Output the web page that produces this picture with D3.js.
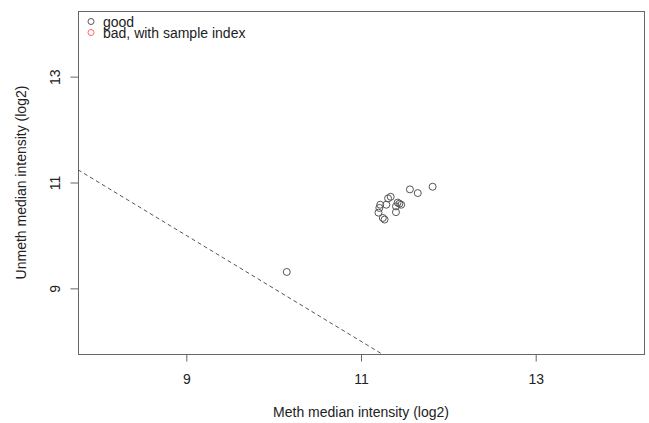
<!DOCTYPE html>
<html>
<head>
<meta charset="utf-8">
<script src="https://cdn.jsdelivr.net/npm/d3@7"></script>
<style>
  body { margin: 0; background: #fff; }
  text { font-family: "Liberation Sans", Arial, sans-serif; fill: #222; }
</style>
</head>
<body>
<div id="chart"></div>
<script>
/* QC plot: meth vs unmeth median intensity */

// sample medians (log2)
const meth   = [10.15, 11.56, 11.65, 11.82, 11.34, 11.31, 11.29, 11.22, 11.21,
                11.20, 11.25, 11.27, 11.42, 11.46, 11.40, 11.40, 11.44];
const unmeth = [9.31, 10.87, 10.80, 10.92, 10.73, 10.70, 10.58, 10.58, 10.52,
                10.43, 10.33, 10.30, 10.62, 10.58, 10.55, 10.44, 10.60];
const xTicks = [9, 11, 13];
const yTicks = [9, 11, 13];
const cutoff = 9.5; // line: meth + unmeth = 2 * cutoff
const legendLabels = ["good", "bad, with sample index"];
const legendColors = ["#555", "#f66"];

const width = 649,
      height = 423,
      margin = ({ top: 11, right: 5, bottom: 69, left: 78 });

const svg = d3.select("#chart")
    .append("svg")
    .attr("width", width)
    .attr("height", height);

// R style limits: 8..14 with 4% extension
const x = d3.scaleLinear()
    .domain([7.76, 14.24])
    .range([margin.left, width - margin.right]);

const y = d3.scaleLinear()
    .domain([7.76, 14.24])
    .range([height - margin.bottom, margin.top]);

const data = meth.map((m, i) => ({ m: m, u: unmeth[i] }));

// plot box
svg.append("rect")
    .attr("x", x.range()[0] + 0.5)
    .attr("y", y.range()[1] + 0.5)
    .attr("width", x.range()[1] - x.range()[0])
    .attr("height", y.range()[0] - y.range()[1])
    .attr("fill", "none")
    .attr("stroke", "#666")
    .attr("stroke-width", 1);

// axes
const xAxis = svg.append("g")
    .attr("transform", `translate(0,${y.range()[0] + 0.5})`)
    .call(d3.axisBottom(x).tickValues(xTicks).tickFormat(d3.format("d"))
        .tickSize(7).tickPadding(13));
xAxis.select(".domain").remove();

const yAxis = svg.append("g")
    .attr("transform", `translate(${x.range()[0] + 0.5},0)`)
    .call(d3.axisLeft(y).tickValues(yTicks).tickFormat(d3.format("d"))
        .tickSize(8).tickPadding(0));
yAxis.select(".domain").remove();

svg.selectAll(".tick line").attr("stroke", "#666");
xAxis.selectAll(".tick text")
    .style("font-size", "14px")
    .attr("fill", "#222");
yAxis.selectAll(".tick text")
    .style("font-size", "14px")
    .attr("fill", "#222")
    .attr("x", 0)
    .attr("dy", 0)
    .attr("text-anchor", "middle")
    .attr("transform", "translate(-18.5,0) rotate(-90)");

// axis titles
svg.append("text")
    .attr("x", (x.range()[0] + x.range()[1]) / 2)
    .attr("y", 417)
    .attr("text-anchor", "middle")
    .style("font-size", "14px")
    .text("Meth median intensity (log2)");

svg.append("text")
    .attr("transform", `translate(26,${(y.range()[0] + y.range()[1]) / 2}) rotate(-90)`)
    .attr("text-anchor", "middle")
    .style("font-size", "14px")
    .text("Unmeth median intensity (log2)");

// clip for the dashed cutoff line
svg.append("clipPath")
    .attr("id", "plot-clip")
    .append("rect")
    .attr("x", x.range()[0])
    .attr("y", y.range()[1])
    .attr("width", x.range()[1] - x.range()[0])
    .attr("height", y.range()[0] - y.range()[1]);

const x0 = x.domain()[0], x1 = x.domain()[1];
svg.append("line")
    .attr("clip-path", "url(#plot-clip)")
    .attr("x1", x(x0))
    .attr("y1", y(2 * cutoff - x0))
    .attr("x2", x(x1))
    .attr("y2", y(2 * cutoff - x1))
    .attr("stroke", "#555")
    .attr("stroke-dasharray", "4,3")
    .attr("stroke-width", 1);

// points
svg.selectAll(".pt")
    .data(data)
    .join("circle")
    .attr("class", "pt")
    .attr("cx", d => x(d.m))
    .attr("cy", d => y(d.u))
    .attr("r", 3.5)
    .attr("fill", "none")
    .attr("stroke", d => (d.m + d.u) / 2 < cutoff ? legendColors[1] : legendColors[0])
    .attr("stroke-width", 1);

// legend
const legend = svg.selectAll(".legend")
    .data(legendLabels)
    .join("g")
    .attr("class", "legend")
    .attr("transform", (d, i) => `translate(91,${21.5 + i * 11})`);

legend.append("circle")
    .attr("r", 3)
    .attr("fill", "none")
    .attr("stroke", (d, i) => legendColors[i]);

legend.append("text")
    .attr("x", 12)
    .attr("y", 5)
    .style("font-size", "14px")
    .text(d => d);
</script>
</body>
</html>
